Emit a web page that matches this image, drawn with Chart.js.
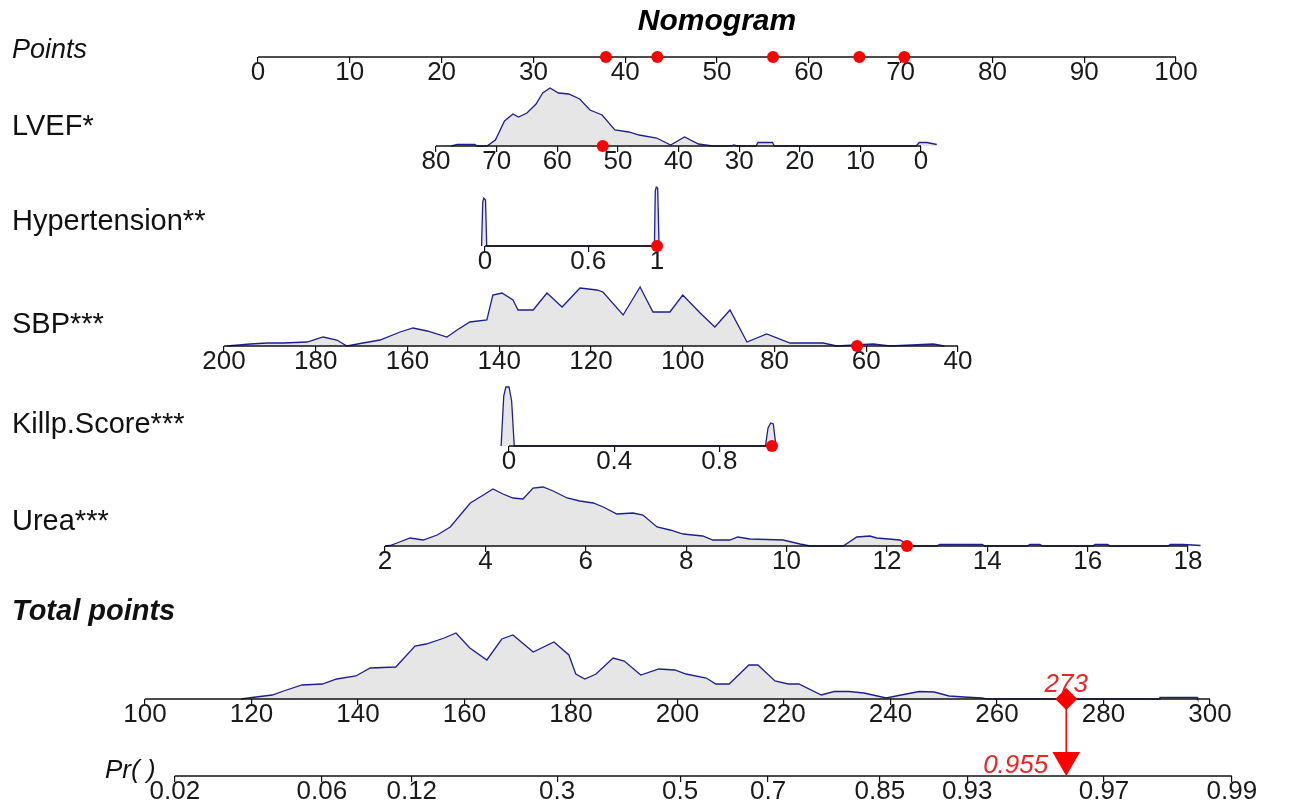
<!DOCTYPE html>
<html>
<head>
<meta charset="utf-8">
<title>Nomogram</title>
<script src="https://cdn.jsdelivr.net/npm/chart.js@4.4.1/dist/chart.umd.min.js"></script>
<style>
  html, body { margin: 0; padding: 0; background: #fff; }
  #wrap { width: 1292px; height: 804px; position: relative; }
</style>
</head>
<body>
<div id="wrap"><canvas id="nomo"></canvas></div>
<script>
// ---- values ----
const pointsTicks = [0, 10, 20, 30, 40, 50, 60, 70, 80, 90, 100];
const lvefTicks = [80, 70, 60, 50, 40, 30, 20, 10, 0];
const htnTicks = [0, 0.6, 1];
const sbpTicks = [200, 180, 160, 140, 120, 100, 80, 60, 40];
const killipTicks = [0, 0.4, 0.8];
const ureaTicks = [2, 4, 6, 8, 10, 12, 14, 16, 18];
const totalTicks = [100, 120, 140, 160, 180, 200, 220, 240, 260, 280, 300];
const prTickLabels = ['0.02', '0.06', '0.12', '0.3', '0.5', '0.7', '0.85', '0.93', '0.97', '0.99'];
const prTickTotals = [105.6, 133.2, 150.1, 177.4, 200.5, 217.0, 238.0, 254.4, 280.1, 304.1];

// axis extents (first value, last value)
const pointsRange = [0, 100];
const lvefRange = [80, 0];
const htnRange = [0, 1];
const sbpRange = [200, 40];
const killipRange = [0, 1];
const ureaRange = [2, 18];
const totalRange = [100, 300];

// density curves: [value, relative density]
const lvefDensity = [[77.5,0],[76.5,1.5],[73.6,1.5],[73.2,0],[71.6,0],[70.2,6],[68.7,25],[67.3,32],[66.4,29],
  [65.0,33],[63.5,42],[62.4,53],[61.2,58],[59.8,53],[58.1,52],[56.3,47],[54.6,36],[52.6,31],[50.5,16],
  [48.2,14],[46.5,11],[43.6,8],[41.3,1],[39.0,9],[36.7,2],[34.4,0],[31.3,0],[30.9,1],[30.3,0],[27.2,0],
  [26.9,3.5],[24.5,3.5],[24.2,0],[0.8,0],[0.3,3.5],[-1,3.5],[-2.6,1.5]];
const htnDensity = [[-0.02,0],[-0.013,44],[-0.007,48],[0.003,46],[0.01,0],[0.985,0],[0.99,55],
  [0.996,59],[1.004,58],[1.012,0]];
const sbpDensity = [[199.3,0],[194.3,2],[190.6,3],[187.1,3],[181.9,4],[178.4,9],[175.4,6],[173.2,0],
  [169.7,3],[166.0,6],[161.6,14],[158.8,18],[155.7,15],[151.4,9],[149.2,16],[146.4,24],[142.7,26],
  [141.4,51],[139.4,53],[137.0,46],[135.9,36],[132.6,36],[129.6,53],[126.3,39],[122.4,58],[118.7,56],
  [117.4,54],[113.0,31],[109.3,59],[106.5,34],[102.8,34],[100.0,51],[96.2,33],[93.0,19],[89.7,36],
  [86.0,4],[81.7,12],[76.6,3],[69.4,3],[66.4,0],[58.5,2],[54.8,0],[45.4,2],[43,0]];
const killipDensity = [[-0.03,0],[-0.02,50],[-0.012,59],[0.0,59],[0.01,45],[0.02,0],[0.975,0],
  [0.985,18],[0.995,23],[1.005,22],[1.015,0]];
const ureaDensity = [[2.0,0],[2.1,0.5],[2.24,3],[2.5,8],[2.76,6],[3.04,11],[3.3,19],[3.7,43],[3.96,51],
  [4.15,57],[4.35,52],[4.55,48],[4.75,47],[4.95,58],[5.15,59],[5.35,55],[5.63,48],[5.88,45],[6.15,43],
  [6.35,39],[6.62,32],[6.94,33],[7.14,31],[7.42,19],[7.68,16],[7.94,12],[8.33,10],[8.53,6],[8.87,6],
  [9.03,9],[9.27,7],[9.93,6],[10.27,2],[10.47,0],[11.13,0],[11.4,9],[11.66,10],[11.8,8],[12.26,6],
  [12.46,0],[13.0,0],[13.05,1.5],[13.9,1.5],[13.95,0],[14.8,0],[14.85,1.5],[15.05,1.5],[15.1,0],
  [16.1,0],[16.15,1.5],[16.4,1.5],[16.45,0],[17.6,0],[17.65,1.5],[17.9,1.5],[18.25,0.5]];
const totalDensity = [[118,0],[120.1,1.5],[123.9,4],[126.3,8.5],[129.5,14],[133.3,15],[136.0,20],
  [139.6,23],[142.3,31],[147.1,32],[150.7,53],[152.8,55],[156.2,61],[158.4,66],[161.0,51],[164.2,39],
  [167.0,60],[169.1,64],[172.9,47],[176.8,57],[179.6,44],[180.9,25],[182.6,20],[184.7,25],[187.9,41],
  [190.0,38],[193.1,24],[196.5,30],[199.5,29],[201.6,25],[205.4,21],[207.2,15],[209.7,15],[213.4,34],
  [215.1,34],[218.3,18],[220.8,15],[222.8,15],[227.0,4],[229.4,7.5],[232.2,7.5],[235.0,6],[239.2,1],
  [242.0,4],[245.4,7.5],[248.2,7],[251.0,3],[253.8,2],[257.2,1],[258,0],[290.5,0],[290.6,1.5],
  [297.6,1.5],[297.7,0]];

// the case marked in red
const caseLvef = 52.5;
const caseHtn = 1;
const caseSbp = 62;
const caseKillip = 1;
const caseUrea = 12.4;
const casePoints = [37.9, 43.5, 56.1, 65.5, 70.4];
const caseTotal = 273;
const caseProb = '0.955';

// ---- layout ----
const W = 1292, H = 804;
const FONT = '"Liberation Sans", Arial, Helvetica, sans-serif';
const NAVY = '#1f1f8c';
const GREY = '#e6e6e6';
const RED = '#ff0000';

// each row: baseline y, label y, two anchor values with their pixel x
const rows = [
  { key: 'Pts', label: 'Points', font: 'italic 27px', labelY: 50, base: 57, a: 0, pa: 258, b: 100, pb: 1176, ticks: pointsTicks, range: pointsRange },
  { key: 'Lvef', label: 'LVEF*', font: '29px', labelY: 127, base: 146, a: 80, pa: 436, b: 0, pb: 921, ticks: lvefTicks, range: lvefRange, dens: lvefDensity },
  { key: 'Htn', label: 'Hypertension**', font: '29px', labelY: 222, base: 246, a: 0, pa: 485, b: 1, pb: 657, ticks: htnTicks, range: htnRange, dens: htnDensity },
  { key: 'Sbp', label: 'SBP***', font: '29px', labelY: 325, base: 346, a: 200, pa: 224, b: 40, pb: 958, ticks: sbpTicks, range: sbpRange, dens: sbpDensity },
  { key: 'Killip', label: 'Killp.Score***', font: '29px', labelY: 425, base: 446, a: 0, pa: 509, b: 1, pb: 772, ticks: killipTicks, range: killipRange, dens: killipDensity },
  { key: 'Urea', label: 'Urea***', font: '29px', labelY: 522, base: 546, a: 2, pa: 385, b: 18, pb: 1188, ticks: ureaTicks, range: ureaRange, dens: ureaDensity },
  { key: 'Total', label: 'Total points', font: 'italic bold 29px', labelY: 612, base: 699, a: 100, pa: 145, b: 300, pb: 1210, ticks: totalTicks, range: totalRange, dens: totalDensity },
  { key: 'Pr', label: 'Pr( )', font: 'italic 26px', labelX: 105, labelY: 771, base: 776, a: 100, pa: 145, b: 300, pb: 1210, ticks: prTickTotals, range: [prTickTotals[0], prTickTotals[prTickTotals.length - 1]], tickText: prTickLabels }
];
const rowByKey = {};
rows.forEach(r => rowByKey[r.key] = r);

const scales = {
  y: { type: 'linear', display: false, min: 0, max: H, reverse: true }
};
rows.forEach(r => {
  const s = (r.pb - r.pa) / (r.b - r.a);
  const v0 = r.a - r.pa / s;
  const v1 = r.a + (W - r.pa) / s;
  scales['x' + r.key] = {
    type: 'linear',
    axis: 'x',
    position: { y: r.base },
    min: Math.min(v0, v1),
    max: Math.max(v0, v1),
    reverse: s < 0,
    bounds: 'data',
    border: { display: false },
    grid: { drawOnChartArea: false, drawTicks: true, tickLength: 6, color: '#111', lineWidth: 1.2 },
    ticks: {
      autoSkip: false, maxRotation: 0, minRotation: 0, padding: -6,
      color: '#1a1a1a', font: { family: FONT, size: 26 },
      callback: (v, i) => r.tickText ? r.tickText[i] : String(v)
    },
    afterBuildTicks: sc => { sc.ticks = r.ticks.map(v => ({ value: v })); }
  };
});

const datasets = [];

function dotSet(key, xs, style) {
  const r = rowByKey[key];
  return Object.assign({
    xAxisID: 'x' + key, yAxisID: 'y',
    data: xs.map(v => ({ x: v, y: r.base })),
    showLine: false, pointRadius: 6, pointStyle: 'circle',
    pointBackgroundColor: RED, pointBorderColor: RED, pointBorderWidth: 0
  }, style || {});
}

// red marks (drawn on top)
datasets.push(dotSet('Total', [caseTotal], { pointStyle: 'rectRot', pointRadius: 11 }));
datasets.push({
  xAxisID: 'xTotal', yAxisID: 'y',
  data: [{ x: caseTotal, y: rowByKey.Pr.base - 16 }],
  showLine: false, pointStyle: 'triangle', rotation: 180, pointRadius: 16,
  pointBackgroundColor: RED, pointBorderColor: RED, pointBorderWidth: 0
});
datasets.push({
  xAxisID: 'xTotal', yAxisID: 'y',
  data: [{ x: caseTotal, y: rowByKey.Total.base }, { x: caseTotal, y: rowByKey.Pr.base - 16 }],
  borderColor: RED, borderWidth: 1.5, pointRadius: 0, fill: false
});
datasets.push(dotSet('Pts', casePoints));
datasets.push(dotSet('Lvef', [caseLvef]));
datasets.push(dotSet('Htn', [caseHtn]));
datasets.push(dotSet('Sbp', [caseSbp]));
datasets.push(dotSet('Killip', [caseKillip]));
datasets.push(dotSet('Urea', [caseUrea]));

// axis lines
rows.forEach(r => {
  datasets.push({
    xAxisID: 'x' + r.key, yAxisID: 'y',
    data: r.range.map(v => ({ x: v, y: r.base })),
    borderColor: '#111', borderWidth: 1.3, pointRadius: 0, fill: false
  });
});

// density curves (drawn underneath)
rows.filter(r => r.dens).forEach(r => {
  datasets.push({
    xAxisID: 'x' + r.key, yAxisID: 'y',
    data: r.dens.map(([v, d]) => ({ x: v, y: r.base - d })),
    borderColor: NAVY, borderWidth: 1.3, backgroundColor: GREY,
    fill: { value: r.base }, pointRadius: 0, tension: 0
  });
});

const textPlugin = {
  id: 'nomoText',
  beforeDatasetsDraw(chart) {
    const ctx = chart.ctx;
    const y = chart.scales.y;
    const xt = chart.scales.xTotal;
    ctx.save();
    ctx.textBaseline = 'middle';
    ctx.fillStyle = '#000';
    ctx.textAlign = 'center';
    ctx.font = 'italic bold 30px ' + FONT;
    ctx.fillText('Nomogram', chart.scales.xPts.getPixelForValue(50), y.getPixelForValue(22));
    ctx.textAlign = 'left';
    rows.forEach(r => {
      ctx.font = r.font + ' ' + FONT;
      ctx.fillStyle = '#111';
      ctx.fillText(r.label, r.labelX || 12, y.getPixelForValue(r.labelY));
    });
    ctx.fillStyle = '#e8262a';
    ctx.font = 'italic 26px ' + FONT;
    ctx.textAlign = 'center';
    ctx.fillText(String(caseTotal), xt.getPixelForValue(caseTotal), y.getPixelForValue(rowByKey.Total.base - 14));
    ctx.textAlign = 'right';
    ctx.fillText(caseProb, xt.getPixelForValue(caseTotal) - 18, y.getPixelForValue(rowByKey.Pr.base - 10));
    ctx.restore();
  }
};

new Chart(document.getElementById('nomo'), {
  type: 'line',
  data: { datasets: datasets },
  options: {
    responsive: true,
    maintainAspectRatio: false,
    animation: false,
    events: [],
    layout: { padding: 0, autoPadding: false },
    plugins: { legend: { display: false }, tooltip: { enabled: false }, title: { display: false } },
    scales: scales
  },
  plugins: [textPlugin]
});
</script>
</body>
</html>
